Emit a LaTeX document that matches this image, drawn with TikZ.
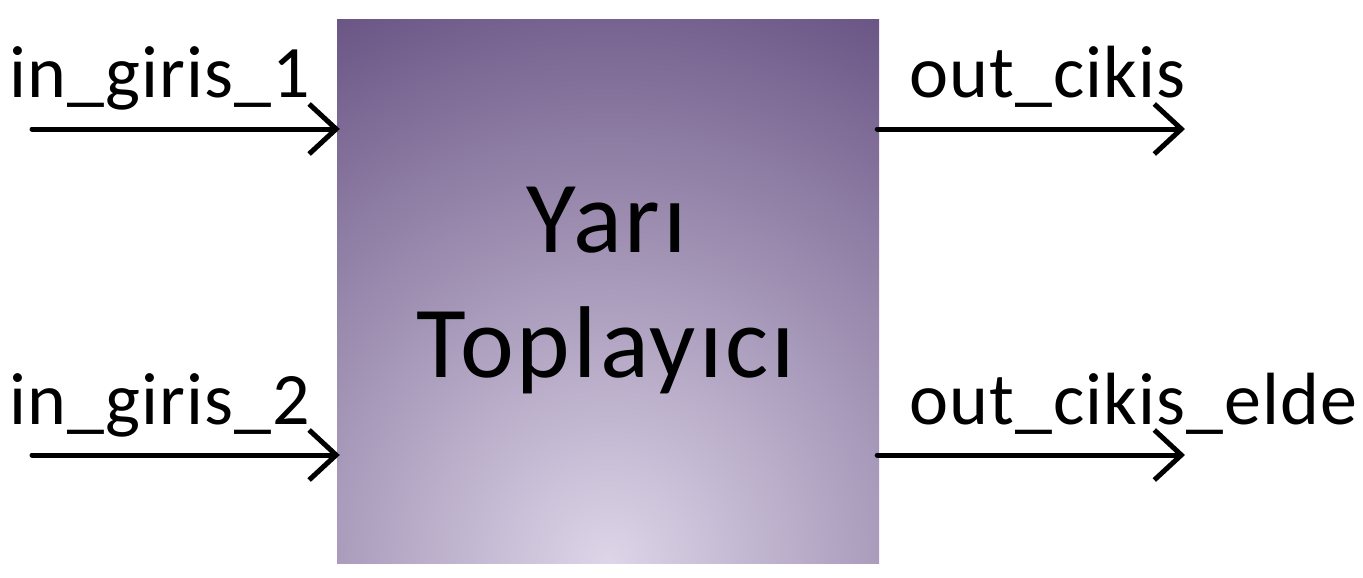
\documentclass[tikz,border=0pt]{standalone}
\usepackage{fontspec}
\setmainfont{Carlito}
\newfontfamily\titlefont[LetterSpace=3]{Carlito}
\newfontfamily\portfont[LetterSpace=1.5]{Carlito}
\usetikzlibrary{arrows.meta, positioning}
\definecolor{yarilight}{HTML}{DDD5E8}
\definecolor{yaridark}{HTML}{6A5585}
\tikzset{
  block/.style={rectangle,minimum width=542pt,minimum height=543pt,inner sep=0pt,
    path picture={\shade[inner color=yarilight,outer color=yaridark]
      (path picture bounding box.south) circle (610pt);}},
  title/.style={anchor=base,inner sep=0pt,font=\titlefont\fontsize{102}{125}\selectfont},
  port/.style={anchor=base west,inner sep=0pt,font=\portfont\fontsize{74}{90}\selectfont},
  line/.style={line width=5pt,line cap=round,line join=round,
    -{Straight Barb[length=27pt,width=50pt]}}
}

\begin{document}
\begin{tikzpicture}[x=1pt,y=-1pt]
\useasboundingbox (0,0) rectangle (1363,578);
\node[block] (yt) at (608,291.5) {};
\node[title] (yari) at (607,252) {Yarı};
\node[title] (toplayici) at (606,377) {Toplayıcı};
% inputs
\coordinate (in1) at (32,129);
\coordinate (in2) at (32,455);
\node[port] (giris1) at (9,98) {in\_giris\_1};
\node[port] (giris2) at (9,424) {in\_giris\_2};
\draw[line] (in1) -- ([xshift=3pt]yt.west |- in1);
\draw[line] (in2) -- ([xshift=3pt]yt.west |- in2);
% outputs
\coordinate (out1) at (1185,129);
\coordinate (out2) at (1185,455);
\node[port] (cikis) at (909,98) {out\_cikis};
\node[port] (elde) at (909,424) {out\_cikis\_elde};
\draw[line] ([xshift=-2pt]yt.east |- out1) -- (out1);
\draw[line] ([xshift=-2pt]yt.east |- out2) -- (out2);
\end{tikzpicture}
\end{document}
